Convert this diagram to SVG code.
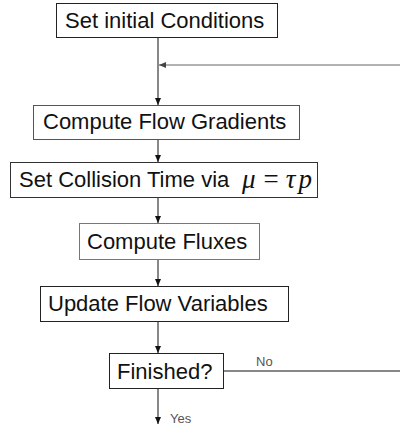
<svg xmlns="http://www.w3.org/2000/svg" width="400" height="427" viewBox="0 0 400 427">
  <style>
    .box { fill: #ffffff; stroke-width: 1; }
    .lbl { font-family: "Liberation Sans", Arial, sans-serif; font-size: 22px; fill: #111111; }
    .math { font-family: "Liberation Serif", "Times New Roman", serif; font-size: 27px; fill: #111111; }
    .small { font-family: "Liberation Sans", Arial, sans-serif; font-size: 13px; fill: #555555; }
    .flow { stroke: #111111; stroke-width: 1; fill: none; }
    .loop { stroke: #666666; stroke-width: 1.2; fill: none; }
  </style>
  <defs>
    <marker id="arrowDark" markerUnits="userSpaceOnUse" markerWidth="8" markerHeight="8" refX="7" refY="3" orient="auto">
      <path d="M0,0 L7,3 L0,6 Z" fill="#111111"/>
    </marker>
    <marker id="arrowGray" markerUnits="userSpaceOnUse" markerWidth="8" markerHeight="8" refX="7" refY="3" orient="auto">
      <path d="M0,0 L7,3 L0,6 Z" fill="#444444"/>
    </marker>
  </defs>
  <rect width="400" height="427" fill="#ffffff"/>

  <g id="connectors">
    <line class="flow" x1="158" y1="37" x2="158" y2="105" marker-end="url(#arrowDark)"/>
    <line class="loop" x1="400" y1="65" x2="159" y2="65" marker-end="url(#arrowGray)"/>
    <line class="flow" x1="158" y1="139" x2="158" y2="162" marker-end="url(#arrowDark)"/>
    <line class="flow" x1="158" y1="197" x2="158" y2="223" marker-end="url(#arrowDark)"/>
    <line class="flow" x1="158" y1="259" x2="158" y2="286" marker-end="url(#arrowDark)"/>
    <line class="flow" x1="158" y1="321" x2="158" y2="353" marker-end="url(#arrowDark)"/>
    <line class="flow" x1="223" y1="371" x2="400" y2="371"/>
    <text class="small" x="256" y="366">No</text>
    <line class="flow" x1="158" y1="388" x2="158" y2="424" marker-end="url(#arrowDark)"/>
    <text class="small" x="170" y="423">Yes</text>
  </g>

  <g id="initial">
    <rect class="box" x="56.5" y="3.5" width="221" height="34" stroke="#222222"/>
    <text class="lbl" x="65" y="28">Set initial Conditions</text>
  </g>

  <g id="gradients">
    <rect class="box" x="33.5" y="105.5" width="266" height="34" stroke="#555555"/>
    <text class="lbl" x="43" y="129">Compute Flow Gradients</text>
  </g>

  <g id="collision">
    <rect class="box" x="10.5" y="162.5" width="307" height="35" stroke="#333333"/>
    <text class="lbl" x="19" y="187">Set Collision Time via</text>
    <text class="math" x="242" y="188"><tspan font-style="italic">μ</tspan><tspan dx="8">=</tspan><tspan dx="7" font-style="italic">τ</tspan><tspan dx="3" font-style="italic">p</tspan></text>
  </g>

  <g id="fluxes">
    <rect class="box" x="79.5" y="223.5" width="180" height="36" stroke="#777777"/>
    <text class="lbl" x="87" y="249">Compute Fluxes</text>
  </g>

  <g id="update">
    <rect class="box" x="40.5" y="286.5" width="248" height="35" stroke="#222222"/>
    <text class="lbl" x="48" y="311">Update Flow Variables</text>
  </g>

  <g id="finished">
    <rect class="box" x="109.5" y="353.5" width="114" height="35" stroke="#222222"/>
    <text class="lbl" x="117" y="379">Finished?</text>
  </g>
</svg>
